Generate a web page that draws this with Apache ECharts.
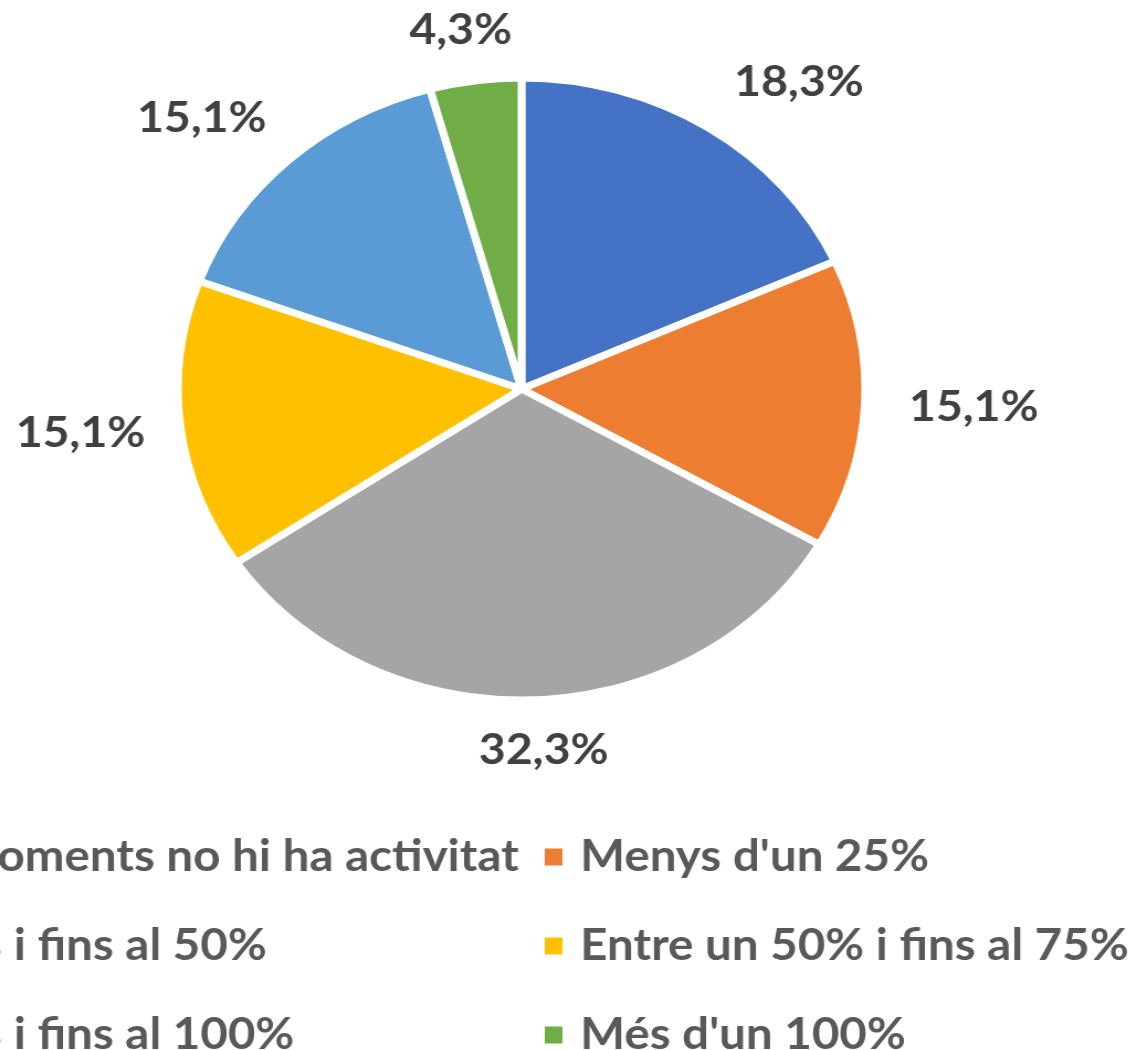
<!DOCTYPE html>
<html>
<head>
<meta charset="utf-8">
<script src="https://cdn.jsdelivr.net/npm/echarts@6/dist/echarts.min.js"></script>
<style>
html, body { margin: 0; padding: 0; background: #fff; overflow: hidden; }
/* the source picture is stretched sideways, so the pie reads as an ellipse */
#main { width: 1034px; height: 1050px; transform: scaleX(1.105); transform-origin: 0 0; }
</style>
</head>
<body>
<div id="main"></div>
<script>
var categories = [
    'En aquests moments no hi ha activitat',
    "Menys d'un 25%",
    'Entre un 25% i fins al 50%',
    'Entre un 50% i fins al 75%',
    'Entre un 75% i fins al 100%',
    "Més d'un 100%"
];
var values = [18.3, 15.1, 32.3, 15.1, 15.1, 4.3];
var colors = ['#4472C4', '#ED7D31', '#A5A5A5', '#FFC000', '#5B9BD5', '#70AD47'];

var cx = 472, cy = 389, radius = 311, labelGap = 36;
var legendSize = 43;
var legendFont = 'bold ' + legendSize + 'px Lato';

// mid angle of every slice (clockwise from 12 o'clock)
var total = values.reduce(function (a, b) { return a + b; }, 0);
var midAngles = [];
var acc = 0;
values.forEach(function (v) {
    var deg = 90 - (acc + v / 2) / total * 360;
    midAngles.push(deg * Math.PI / 180);
    acc += v;
});

function textWidth(txt, font) {
    var ctx = document.createElement('canvas').getContext('2d');
    ctx.font = font;
    return ctx.measureText(txt).width;
}
var firstW = Math.ceil(textWidth(categories[0], legendFont));

var chart = echarts.init(document.getElementById('main'));

var option = {
    animation: false,
    color: colors,
    legend: {
        left: 431 - firstW,
        top: 818,
        width: 2 * (33 + firstW) + 21 + 4,
        icon: 'rect',
        itemWidth: 18,
        itemHeight: 19,
        itemGap: 21,
        selectedMode: false,
        textStyle: {
            fontFamily: 'Lato',
            fontWeight: 'bold',
            fontSize: legendSize,
            color: '#595959',
            width: firstW,
            lineHeight: 68,
            padding: [0, 0, 0, 10],
            overflow: 'none'
        }
    },
    series: [{
        type: 'pie',
        center: [cx, cy],
        radius: radius,
        startAngle: 90,
        clockwise: true,
        avoidLabelOverlap: false,
        itemStyle: {
            borderColor: '#ffffff',
            borderWidth: 7
        },
        label: {
            show: true,
            position: 'outside',
            fontFamily: 'Lato',
            fontWeight: 'bold',
            fontSize: 42,
            color: '#404040',
            formatter: function (p) {
                return p.value.toFixed(1).replace('.', ',') + '%';
            }
        },
        labelLine: { show: false },
        // put each label just outside the rim, along the slice's middle
        labelLayout: function (p) {
            var a = midAngles[p.dataIndex];
            var dx = Math.cos(a), dy = Math.sin(a);
            var w = p.labelRect.width, h = p.labelRect.height - 12;
            var k = function (v) { return Math.max(-1, Math.min(1, v * 2)); };
            var r = radius + labelGap;
            return {
                x: cx + dx * r + k(dx) * w / 2 + 4,
                y: cy - dy * r - k(dy) * h / 2,
                align: 'center',
                verticalAlign: 'middle'
            };
        },
        emphasis: { disabled: true },
        data: categories.map(function (name, i) {
            return { name: name, value: values[i] };
        })
    }]
};

chart.setOption(option);
</script>
</body>
</html>
